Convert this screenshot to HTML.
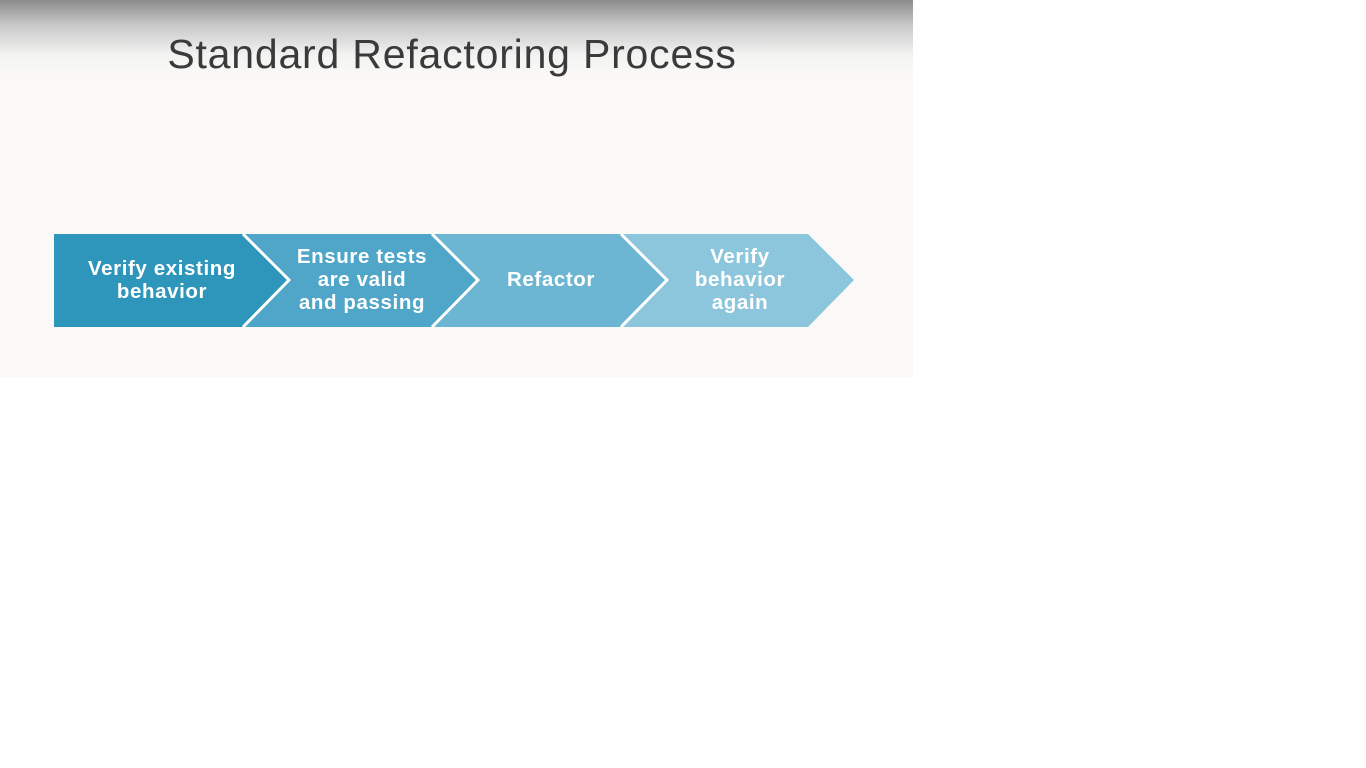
<!DOCTYPE html>
<html><head><style>
body{margin:0;width:1366px;height:768px;background:#fff;overflow:hidden;font-family:"Liberation Sans",sans-serif}
.slide{position:absolute;left:0;top:0;width:913px;height:377px;background:linear-gradient(#8c8c8c 0px,#c8c8c8 25px,#f3f3f2 55px,#faf9f7 75px,#faf9f7)}
</style></head><body>
<div class="slide">
<svg width="913" height="377" style="position:absolute;left:0;top:0">
<text x="452" y="68" text-anchor="middle" font-family="Liberation Sans" font-size="41" fill="#3a3a3a" letter-spacing="0.8">Standard Refactoring Process</text>
<polygon points="808,234 854,280 808,327 54,327 54,234" fill="#8cc6dc"/>
<polygon points="621,234 667,280 621,327 54,327 54,234" fill="#6db6d3"/>
<polygon points="432,234 478,280 432,327 54,327 54,234" fill="#4fa6c8"/>
<polygon points="243,234 289,280 243,327 54,327 54,234" fill="#2e96bb"/>
<g stroke="#fff" stroke-width="3" fill="none" stroke-linejoin="miter">
<polyline points="243,234 289,280 243,327"/>
<polyline points="432,234 478,280 432,327"/>
<polyline points="621,234 667,280 621,327"/>
</g>
<rect x="40" y="229" width="800" height="5" fill="#faf9f7"/>
<rect x="40" y="327" width="800" height="5" fill="#faf9f7"/>
<g fill="#fff" font-family="Liberation Sans" font-weight="bold" font-size="20.5" text-anchor="middle" letter-spacing="0.6">
<text x="162" y="275">Verify existing</text>
<text x="162" y="298">behavior</text>
<text x="362" y="263">Ensure tests</text>
<text x="362" y="286">are valid</text>
<text x="362" y="309">and passing</text>
<text x="551" y="286">Refactor</text>
<text x="740" y="263">Verify</text>
<text x="740" y="286">behavior</text>
<text x="740" y="309">again</text>
</g>
</svg>
</div>
</body></html>
